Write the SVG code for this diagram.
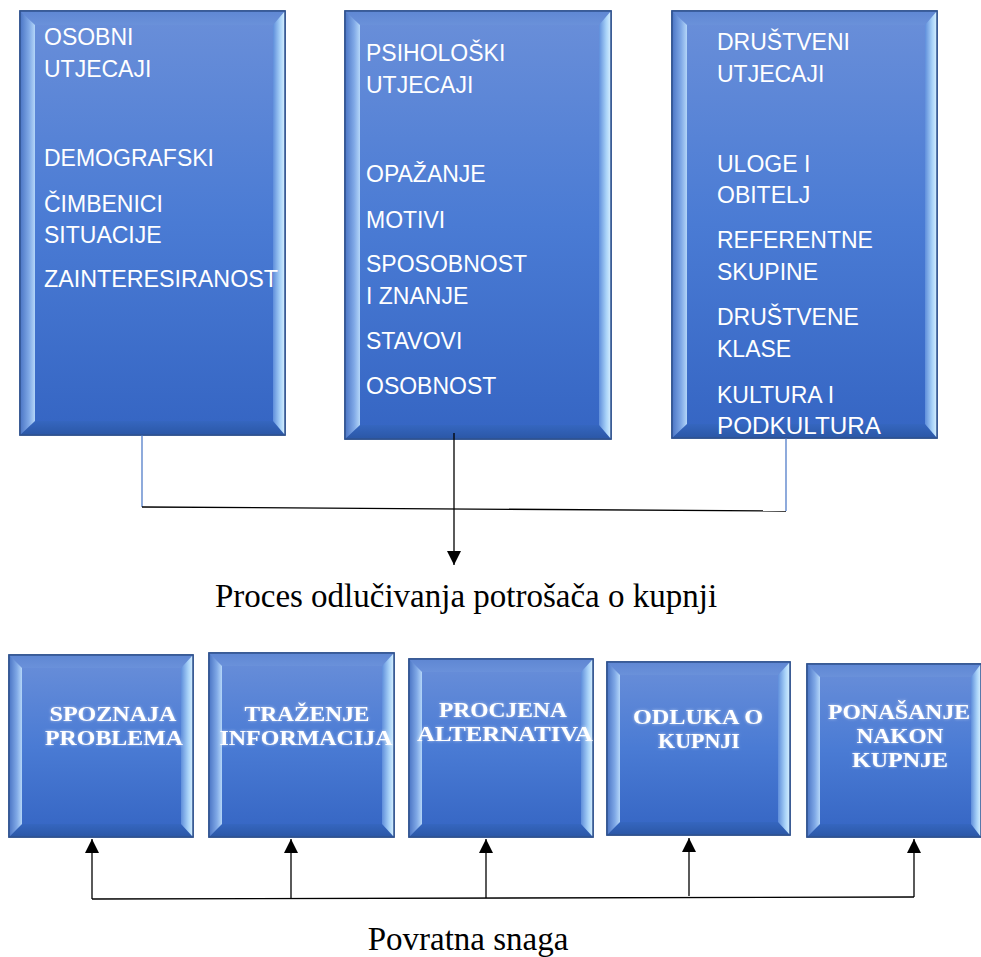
<svg xmlns="http://www.w3.org/2000/svg" width="981" height="957" viewBox="0 0 981 957">
<defs>
<linearGradient id="gMain" x1="0" y1="0" x2="0" y2="1">
<stop offset="0" stop-color="#6a8fd9"/><stop offset="0.5" stop-color="#4a7bd4"/><stop offset="1" stop-color="#3565c3"/>
</linearGradient>
<linearGradient id="gLeft" x1="0" y1="0" x2="1" y2="0">
<stop offset="0" stop-color="#4a74c4"/><stop offset="0.6" stop-color="#7fa8e6"/><stop offset="1" stop-color="#b4d6f8"/>
</linearGradient>
<linearGradient id="gRight" x1="0" y1="0" x2="1" y2="0">
<stop offset="0" stop-color="#5f8edb"/><stop offset="0.6" stop-color="#a8d2f8"/><stop offset="1" stop-color="#d8f1ff"/>
</linearGradient>
<linearGradient id="gTop" x1="0" y1="0" x2="0" y2="1">
<stop offset="0" stop-color="#5f87d3"/><stop offset="1" stop-color="#6a91da"/>
</linearGradient>
<linearGradient id="gBot" x1="0" y1="0" x2="0" y2="1">
<stop offset="0" stop-color="#3566bf"/><stop offset="1" stop-color="#2b57a6"/>
</linearGradient>
<filter id="glow" x="-10%" y="-30%" width="120%" height="160%">
<feGaussianBlur in="SourceAlpha" stdDeviation="1.6" result="b"/>
<feFlood flood-color="#ffffff" flood-opacity="0.55"/>
<feComposite in2="b" operator="in" result="g"/>
<feMerge><feMergeNode in="g"/><feMergeNode in="SourceGraphic"/></feMerge>
</filter>
<marker id="ah" viewBox="0 0 14 14" refX="14" refY="7" markerWidth="14" markerHeight="14" markerUnits="userSpaceOnUse" orient="auto">
<path d="M0,0 L14,7 L0,14 Z" fill="#000"/>
</marker>
</defs>
<style>
.main{fill:url(#gMain);stroke:#2f528f;stroke-width:1.5}
.bl{fill:url(#gLeft)}
.br{fill:url(#gRight)}
.bt{fill:url(#gTop)}
.bb{fill:url(#gBot)}
.t{font-family:"Liberation Sans",Arial,sans-serif;font-size:23px;fill:#ffffff}
.s{font-family:"Liberation Serif","Times New Roman",serif;font-size:22px;font-weight:bold;fill:#ffffff;text-anchor:middle;filter:url(#glow)}
.cap{font-family:"Liberation Serif","Times New Roman",serif;font-size:33px;fill:#000;text-anchor:middle}
.blue{stroke:#4472c4;stroke-width:1.2;fill:none}
.blk{stroke:#000;stroke-width:1.3;fill:none}
</style>

<g id="osobni">
<rect class="main" x="20" y="11" width="265" height="424"/>
<polygon class="bt" points="20,11 285,11 273,25 35,25"/>
<polygon class="bb" points="20,435 285,435 273,421 35,421"/>
<polygon class="bl" points="20,11 35,25 35,421 20,435"/>
<polygon class="br" points="285,11 273,25 273,421 285,435"/>
<rect x="20" y="11" width="265" height="424" fill="none" stroke="#2f528f" stroke-width="1.5"/>
<text class="t" x="44" y="45">OSOBNI</text>
<text class="t" x="44" y="77">UTJECAJI</text>
<text class="t" x="44" y="166">DEMOGRAFSKI</text>
<text class="t" x="44" y="212">ČIMBENICI</text>
<text class="t" x="44" y="243">SITUACIJE</text>
<text class="t" x="44" y="287" textLength="234" lengthAdjust="spacingAndGlyphs">ZAINTERESIRANOST</text>
</g>

<g id="psiholoski">
<rect class="main" x="345" y="11" width="266" height="428"/>
<polygon class="bt" points="345,11 611,11 599,25 360,25"/>
<polygon class="bb" points="345,439 611,439 599,425 360,425"/>
<polygon class="bl" points="345,11 360,25 360,425 345,439"/>
<polygon class="br" points="611,11 599,25 599,425 611,439"/>
<rect x="345" y="11" width="266" height="428" fill="none" stroke="#2f528f" stroke-width="1.5"/>
<text class="t" x="366" y="61">PSIHOLOŠKI</text>
<text class="t" x="366" y="93">UTJECAJI</text>
<text class="t" x="366" y="182">OPAŽANJE</text>
<text class="t" x="366" y="228">MOTIVI</text>
<text class="t" x="366" y="272">SPOSOBNOST</text>
<text class="t" x="366" y="304">I ZNANJE</text>
<text class="t" x="366" y="349">STAVOVI</text>
<text class="t" x="366" y="394">OSOBNOST</text>
</g>

<g id="drustveni">
<rect class="main" x="672" y="11" width="265" height="427"/>
<polygon class="bt" points="672,11 937,11 925,25 687,25"/>
<polygon class="bb" points="672,438 937,438 925,424 687,424"/>
<polygon class="bl" points="672,11 687,25 687,424 672,438"/>
<polygon class="br" points="937,11 925,25 925,424 937,438"/>
<rect x="672" y="11" width="265" height="427" fill="none" stroke="#2f528f" stroke-width="1.5"/>
<text class="t" x="717" y="50">DRUŠTVENI</text>
<text class="t" x="717" y="82">UTJECAJI</text>
<text class="t" x="717" y="172">ULOGE I</text>
<text class="t" x="717" y="203">OBITELJ</text>
<text class="t" x="717" y="248">REFERENTNE</text>
<text class="t" x="717" y="280">SKUPINE</text>
<text class="t" x="717" y="325">DRUŠTVENE</text>
<text class="t" x="717" y="357">KLASE</text>
<text class="t" x="717" y="403">KULTURA I</text>
<text class="t" x="717" y="434" textLength="164" lengthAdjust="spacingAndGlyphs">PODKULTURA</text>
</g>

<g id="spoznaja">
<rect class="main" x="9" y="655" width="184" height="182"/>
<polygon class="bt" points="9,655 193,655 181,668 22,668"/>
<polygon class="bb" points="9,837 193,837 181,824 22,824"/>
<polygon class="bl" points="9,655 22,668 22,824 9,837"/>
<polygon class="br" points="193,655 181,668 181,824 193,837"/>
<rect x="9" y="655" width="184" height="182" fill="none" stroke="#2f528f" stroke-width="1.5"/>
<text class="s" x="113" y="721" textLength="127" lengthAdjust="spacingAndGlyphs">SPOZNAJA</text>
<text class="s" x="114" y="745" textLength="138" lengthAdjust="spacingAndGlyphs">PROBLEMA</text>
</g>

<g id="trazenje">
<rect class="main" x="209" y="653" width="185" height="184"/>
<polygon class="bt" points="209,653 394,653 382,666 222,666"/>
<polygon class="bb" points="209,837 394,837 382,824 222,824"/>
<polygon class="bl" points="209,653 222,666 222,824 209,837"/>
<polygon class="br" points="394,653 382,666 382,824 394,837"/>
<rect x="209" y="653" width="185" height="184" fill="none" stroke="#2f528f" stroke-width="1.5"/>
<text class="s" x="307" y="721" textLength="125" lengthAdjust="spacingAndGlyphs">TRAŽENJE</text>
<text class="s" x="306" y="745" textLength="173" lengthAdjust="spacingAndGlyphs">INFORMACIJA</text>
</g>

<g id="procjena">
<rect class="main" x="409" y="659" width="184" height="178"/>
<polygon class="bt" points="409,659 593,659 581,672 422,672"/>
<polygon class="bb" points="409,837 593,837 581,824 422,824"/>
<polygon class="bl" points="409,659 422,672 422,824 409,837"/>
<polygon class="br" points="593,659 581,672 581,824 593,837"/>
<rect x="409" y="659" width="184" height="178" fill="none" stroke="#2f528f" stroke-width="1.5"/>
<text class="s" x="503" y="717" textLength="128" lengthAdjust="spacingAndGlyphs">PROCJENA</text>
<text class="s" x="505" y="741" textLength="176" lengthAdjust="spacingAndGlyphs">ALTERNATIVA</text>
</g>

<g id="odluka">
<rect class="main" x="607" y="662" width="183" height="173"/>
<polygon class="bt" points="607,662 790,662 778,675 620,675"/>
<polygon class="bb" points="607,835 790,835 778,822 620,822"/>
<polygon class="bl" points="607,662 620,675 620,822 607,835"/>
<polygon class="br" points="790,662 778,675 778,822 790,835"/>
<rect x="607" y="662" width="183" height="173" fill="none" stroke="#2f528f" stroke-width="1.5"/>
<text class="s" x="698" y="724" textLength="130" lengthAdjust="spacingAndGlyphs">ODLUKA O</text>
<text class="s" x="699" y="748">KUPNJI</text>
</g>

<g id="ponasanje">
<rect class="main" x="807" y="664" width="174" height="173"/>
<polygon class="bt" points="807,664 981,664 971,677 820,677"/>
<polygon class="bb" points="807,837 981,837 971,824 820,824"/>
<polygon class="bl" points="807,664 820,677 820,824 807,837"/>
<polygon class="br" points="981,664 971,677 971,824 981,837"/>
<rect x="807" y="664" width="174" height="173" fill="none" stroke="#2f528f" stroke-width="1.5"/>
<text class="s" x="899" y="719" textLength="142" lengthAdjust="spacingAndGlyphs">PONAŠANJE</text>
<text class="s" x="900" y="743" textLength="87" lengthAdjust="spacingAndGlyphs">NAKON</text>
<text class="s" x="900" y="767" textLength="96" lengthAdjust="spacingAndGlyphs">KUPNJE</text>
</g>

<g id="connectors">
<line class="blue" x1="142" y1="435" x2="142" y2="507"/>
<line class="blue" x1="786" y1="438" x2="786" y2="511"/>
<line class="blk" x1="142" y1="507" x2="786" y2="511" stroke-width="1.6"/>
<line class="blk" x1="454" y1="433" x2="454" y2="565" marker-end="url(#ah)"/>
<line class="blk" x1="92" y1="899" x2="914" y2="897" stroke-width="1.6"/>
<line class="blk" x1="92" y1="899" x2="92" y2="839" marker-end="url(#ah)"/>
<line class="blk" x1="291" y1="899" x2="291" y2="839" marker-end="url(#ah)"/>
<line class="blk" x1="486" y1="898" x2="486" y2="839" marker-end="url(#ah)"/>
<line class="blk" x1="689" y1="896" x2="689" y2="838" marker-end="url(#ah)"/>
<line class="blk" x1="914" y1="897" x2="914" y2="839" marker-end="url(#ah)"/>
</g>

<text class="cap" x="466" y="607">Proces odlučivanja potrošača o kupnji</text>
<text class="cap" x="468" y="950">Povratna snaga</text>
</svg>
